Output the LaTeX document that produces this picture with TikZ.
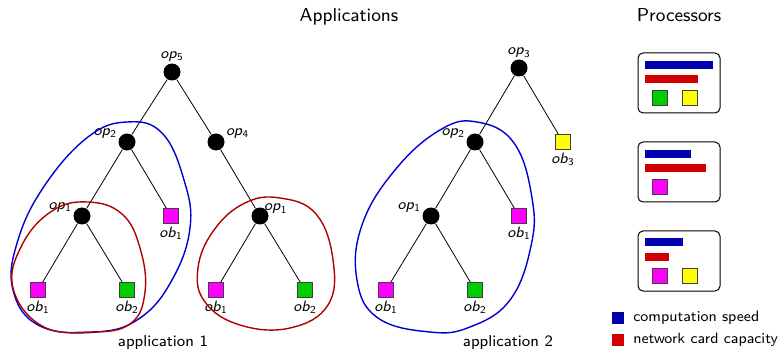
\documentclass[tikz,border=0pt]{standalone}
\usepackage{fontspec}
\renewcommand{\familydefault}{\sfdefault}
\definecolor{loopblue}{RGB}{0,0,210}
\definecolor{loopred}{RGB}{175,0,0}
\definecolor{barblue}{RGB}{0,0,175}
\definecolor{barred}{RGB}{210,0,0}
\definecolor{objmag}{RGB}{255,0,255}
\definecolor{objgreen}{RGB}{0,205,0}
\definecolor{objyellow}{RGB}{255,255,0}
\newcommand{\opn}[1]{\textit{op}\textsubscript{#1}}
\newcommand{\obn}[1]{\textit{ob}\textsubscript{#1}}
\tikzset{
  opnode/.style={circle, fill=black, minimum size=8.5pt, inner sep=0pt},
  obnode/.style={rectangle, draw=black!75, line width=0.4pt, minimum size=7.5pt, inner sep=0pt},
  lbl/.style={font=\fontsize{7.5}{8}\selectfont, inner sep=0.5pt},
  oblbl/.style={lbl, label distance=1pt},
  proc/.style={draw, rounded corners=2.5pt, line width=0.5pt},
  loop/.style={line width=0.7pt},
}
\begin{document}
\begin{tikzpicture}[x=0.5pt, y=-0.5pt]
\useasboundingbox (0,0) rectangle (781,352);

\node (title) at (349,17) {\fontsize{9.4}{11}\selectfont Applications};
\node (ptitle) at (679,15) {\fontsize{9.4}{11}\selectfont Processors};

% application 1
\node (a5) [opnode, label={[lbl]above:\opn{5}}] at (172,72) {};
\node (a2) [opnode, label={[lbl]165:\opn{2}}] at (127,142) {};
\node (a4) [opnode, label={[lbl]15:\opn{4}}] at (216,142) {};
\node (a1) [opnode, label={[lbl]165:\opn{1}}] at (82,216) {};
\node (b1) [obnode, fill=objmag, label={[oblbl]below:\obn{1}}] at (171,216) {};
\node (c1) [obnode, fill=objmag, label={[oblbl]below:\obn{1}}] at (38,290) {};
\node (c2) [obnode, fill=objgreen, label={[oblbl]below:\obn{2}}] at (127,290) {};
\node (d1) [opnode, label={[lbl,label distance=-3pt]15:\opn{1}}] at (260,216) {};
\node (e1) [obnode, fill=objmag, label={[oblbl]below:\obn{1}}] at (216,290) {};
\node (e2) [obnode, fill=objgreen, label={[oblbl]below:\obn{2}}] at (305,290) {};
\draw (a5) -- (a2);
\draw (a5) -- (a4);
\draw (a2) -- (a1);
\draw (a2) -- (b1);
\draw (a1) -- (c1);
\draw (a1) -- (c2);
\draw (a4) -- (d1);
\draw (d1) -- (e1);
\draw (d1) -- (e2);
\node (app1) at (163,343) {\fontsize{7.9}{9}\selectfont application 1};

% application 2
\node (f3) [opnode, label={[lbl]above:\opn{3}}] at (519,68) {};
\node (f2) [opnode, label={[lbl]165:\opn{2}}] at (475,142) {};
\node (g3) [obnode, fill=objyellow, label={[oblbl]below:\obn{3}}] at (563,142) {};
\node (f1) [opnode, label={[lbl]165:\opn{1}}] at (431,216) {};
\node (g1) [obnode, fill=objmag, label={[oblbl]below:\obn{1}}] at (519,216) {};
\node (h1) [obnode, fill=objmag, label={[oblbl]below:\obn{1}}] at (386,290) {};
\node (h2) [obnode, fill=objgreen, label={[oblbl]below:\obn{2}}] at (475,290) {};
\draw (f3) -- (f2);
\draw (f3) -- (g3);
\draw (f2) -- (f1);
\draw (f2) -- (g1);
\draw (f1) -- (h1);
\draw (f1) -- (h2);
\node (app2) at (508,343) {\fontsize{7.9}{9}\selectfont application 2};

% groups
\draw[loop, loopblue] plot[smooth cycle, tension=0.7] coordinates {(127,122) (162,133) (184,180) (190,228) (172,280) (140,318) (97,332) (40,326) (13,290) (18,240) (45,185) (88,137)};
\draw[loop, loopred] plot[smooth cycle, tension=0.7] coordinates {(88,202) (122,214) (140,248) (145,292) (130,324) (90,332) (42,326) (13,288) (22,245) (52,211)};
\draw[loop, loopred] plot[smooth cycle, tension=0.7] coordinates {(280,198) (316,214) (333,260) (328,305) (290,328) (240,325) (205,302) (198,268) (214,230) (245,203)};
\draw[loop, loopblue] plot[smooth cycle, tension=0.7] coordinates {(477,122) (514,143) (532,198) (531,246) (510,300) (470,327) (430,332) (378,318) (357,280) (362,225) (395,170) (440,130)};

% processors
\node (p1) [proc, minimum width=41pt, minimum height=30pt] at (679,83) {};
\fill[barblue] (645,61) rectangle (713,69);
\fill[barred] (645,75) rectangle (698,83);
\node (p1a) [obnode, fill=objgreen] at (660,98) {};
\node (p1b) [obnode, fill=objyellow] at (690,98) {};

\node (p2) [proc, minimum width=41pt, minimum height=30pt] at (679,172) {};
\fill[barblue] (645,150) rectangle (691,158);
\fill[barred] (645,164) rectangle (706,172);
\node (p2a) [obnode, fill=objmag] at (660,187) {};

\node (p3) [proc, minimum width=41pt, minimum height=30pt] at (679,261) {};
\fill[barblue] (645,238) rectangle (683,246);
\fill[barred] (645,253) rectangle (669,261);
\node (p3a) [obnode, fill=objmag] at (660,276) {};
\node (p3b) [obnode, fill=objyellow] at (690,276) {};

% legend
\node (k1) [fill=barblue, minimum size=6pt, inner sep=0pt] at (618,318) {};
\node (k2) [fill=barred, minimum size=6pt, inner sep=0pt] at (618,340) {};
\node (k1t) [anchor=west, inner sep=0pt] at (633,318) {\fontsize{7.5}{9}\selectfont computation speed};
\node (k2t) [anchor=west, inner sep=0pt] at (633,340) {\fontsize{7.5}{9}\selectfont network card capacity};
\end{tikzpicture}
\end{document}
